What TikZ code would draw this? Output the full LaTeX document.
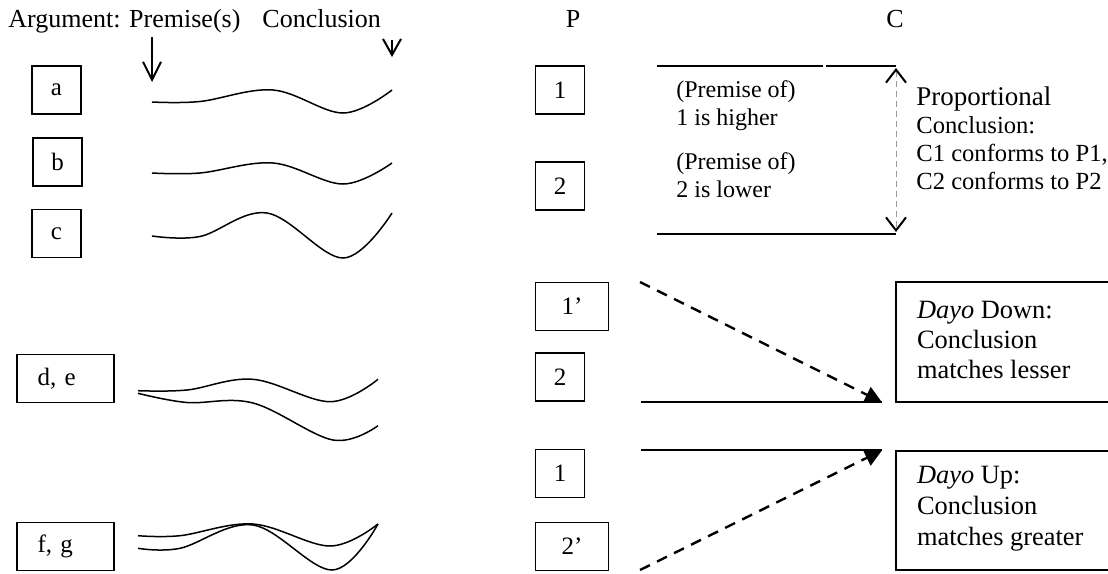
\documentclass[tikz,border=0pt]{standalone}
\usepackage{fontspec}
\setmainfont{Liberation Serif}
\usepackage{tikz}
\usetikzlibrary{positioning,arrows.meta,calc}
\definecolor{guide}{HTML}{9A9A9A}

\begin{document}
\begin{tikzpicture}[x=0.5pt,y=-0.5pt,font=\fontsize{12.5}{15}\selectfont,
  lbl/.style={draw,line width=0.6pt,minimum width=24.5pt,minimum height=24pt,inner sep=0pt},
  wlbl/.style={lbl,text width=28pt,inner xsep=10.25pt,align=left},
  wave/.style={line width=0.75pt,smooth,tension=0.6},
  txt/.style={anchor=base west,align=left,inner sep=0pt}]
\useasboundingbox (0,0) rectangle (1108,573);
% heading (base of a text block = its last line)
\node[txt,font=\fontsize{13}{15}\selectfont] (head) at (8,27) {Argument: Premise(s)\hspace{11pt}Conclusion};
\node[anchor=base,inner sep=0pt,font=\fontsize{13}{15}\selectfont] (P) at (573,27) {P};
\node[anchor=base,inner sep=0pt,font=\fontsize{13}{15}\selectfont] (C) at (895,27) {C};
\coordinate (prem) at (152,82);
\coordinate (conc) at (392,57);
\draw[line width=1pt,-{Straight Barb[length=9pt,width=9pt]}] (152,37) -- (prem);
\draw[line width=1pt,-{Straight Barb[length=8pt,width=9pt]}] (392,40) -- (conc);

% argument boxes and their curves
\node[lbl] (a) at (56.5,90) {a};
\node[lbl] (b) at (57.5,162) {b};
\node[lbl] (c) at (56.5,233.5) {c};
\node[wlbl,minimum width=48.5pt] (de) at (65.5,378.5) {d, e};
\node[wlbl,minimum width=48.5pt] (fg) at (65.5,546.5) {f, g};
\draw[wave] plot coordinates {(152,102) (200,101.5) (273,90) (343,113) (392,90)};
\draw[wave] plot coordinates {(152,173) (200,173) (273,163) (343,184) (392,163)};
\draw[wave] plot coordinates {(152,236) (200,236.5) (267,213) (343,258) (392,213)};
\draw[wave] plot coordinates {(138,390.7) (187,390) (253,379.3) (330,401.7) (378,379.3)};
\draw[wave] plot coordinates {(138,393.3) (187,402.5) (253,403) (333,440) (378,425.7)};
\draw[wave] plot coordinates {(138,535.7) (180,535.7) (253,524) (330,546) (378,524)};
\draw[wave] plot coordinates {(138,548.3) (180,548.3) (253,525) (332,570) (378,524)};

% proportional
\node[lbl] (one) at (560,90) {1};
\node[lbl] (two) at (560,186) {2};
\draw[line width=0.6pt] (657,66) -- (823,66);
\draw[line width=0.9pt] (826,66) coordinate (ptop) -- (896,66);
\draw[line width=0.9pt] (657,234) -- (896,234) coordinate (pbot);
\draw[draw=guide,densely dashed,line width=0.4pt,
  {Straight Barb[length=6.5pt,width=10pt,color=black,line width=1pt]}-{Straight Barb[length=6.5pt,width=10pt,color=black,line width=1pt]}]
  (896,68) -- (896,232);
\node[txt,font=\fontsize{12}{14}\selectfont] (hi) at (676,125) {(Premise of)\\1 is higher};
\node[txt,font=\fontsize{12}{14}\selectfont] (lo) at (676,197) {(Premise of)\\2 is lower};
\node[txt,font=\fontsize{12.3}{14}\selectfont] (prop) at (916,189)
  {{\fontsize{13.5}{14}\selectfont Proportional}\\Conclusion:\\C1 conforms to P1,\\C2 conforms to P2};

% dayo down / up
\node[lbl,minimum width=36.4pt] (onep) at (572.1,306.5) {1’};
\node[lbl] (twolow) at (560,376.9) {2};
\node[lbl] (onelow) at (560,473.2) {1};
\node[lbl,minimum width=36.4pt] (twop) at (572.1,546.5) {2’};
\coordinate (dstart) at (640,282);
\coordinate (sdown) at (641,402.3);
\coordinate (tipD) at (882,402.3);
\coordinate (sup) at (641,450.3);
\coordinate (tipU) at (882,450.3);
\coordinate (ustart) at (640,570);
\draw[line width=0.9pt] (sdown) -- (tipD);
\draw[line width=0.9pt] (sup) -- (tipU);
\draw[line width=1.2pt,dash pattern=on 5.5pt off 4pt,-{Triangle[length=8.5pt,width=8.5pt]}] (dstart) -- (tipD);
\draw[line width=1.2pt,dash pattern=on 5.5pt off 4pt,-{Triangle[length=8.5pt,width=8.5pt]}] (ustart) -- (tipU);
\draw[line width=0.9pt] (1108,282.3) -| (895.7,402.3) -- (1108,402.3);
\draw[line width=0.9pt] (1108,450.7) -| (895.7,570) -- (1108,570);
\node[txt,font=\fontsize{13.2}{15}\selectfont] (down) at (916.7,378) {\textit{Dayo} Down:\\Conclusion\\matches lesser};
\node[txt,font=\fontsize{13.2}{15.5}\selectfont] (up) at (916.7,545.5) {\textit{Dayo} Up:\\Conclusion\\matches greater};
\end{tikzpicture}
\end{document}
